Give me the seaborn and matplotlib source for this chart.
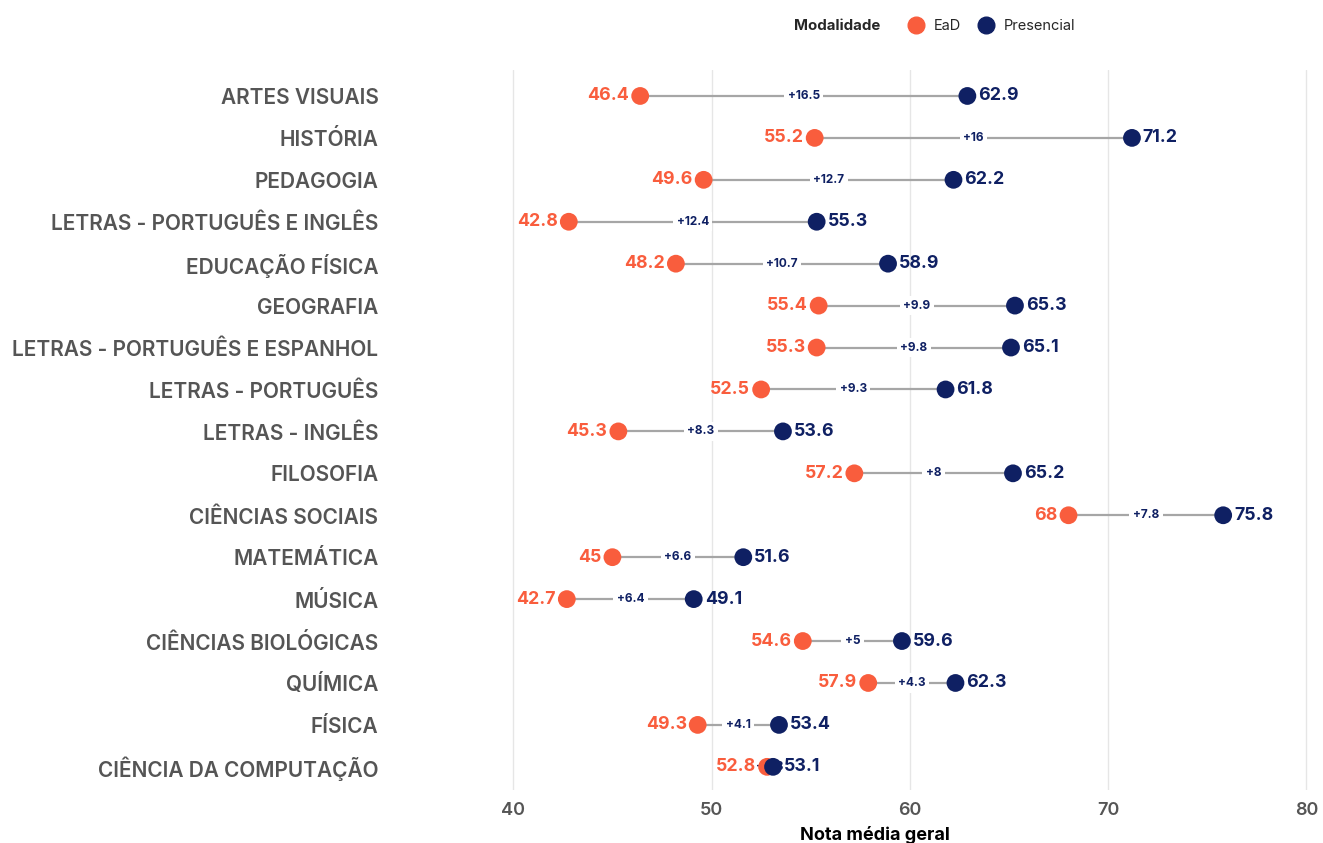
import pandas as pd
import matplotlib.pyplot as plt
import seaborn as sns
from matplotlib.lines import Line2D

# Data (top to bottom)
cursos = ["ARTES VISUAIS", "HISTÓRIA", "PEDAGOGIA", "LETRAS - PORTUGUÊS E INGLÊS",
          "EDUCAÇÃO FÍSICA", "GEOGRAFIA", "LETRAS - PORTUGUÊS E ESPANHOL",
          "LETRAS - PORTUGUÊS", "LETRAS - INGLÊS", "FILOSOFIA", "CIÊNCIAS SOCIAIS",
          "MATEMÁTICA", "MÚSICA", "CIÊNCIAS BIOLÓGICAS", "QUÍMICA", "FÍSICA",
          "CIÊNCIA DA COMPUTAÇÃO"]
nota_ead = [46.4, 55.2, 49.6, 42.8, 48.2, 55.4, 55.3, 52.5, 45.3, 57.2, 68,
            45, 42.7, 54.6, 57.9, 49.3, 52.8]
nota_presencial = [62.9, 71.2, 62.2, 55.3, 58.9, 65.3, 65.1, 61.8, 53.6, 65.2, 75.8,
                   51.6, 49.1, 59.6, 62.3, 53.4, 53.1]
diferenca = ["+16.5", "+16", "+12.7", "+12.4", "+10.7", "+9.9", "+9.8", "+9.3", "+8.3",
             "+8", "+7.8", "+6.6", "+6.4", "+5", "+4.3", "+4.1", "+0.3"]
ead_labels = ["46.4", "55.2", "49.6", "42.8", "48.2", "55.4", "55.3", "52.5", "45.3",
              "57.2", "68", "45", "42.7", "54.6", "57.9", "49.3", "52.8"]
pres_labels = ["62.9", "71.2", "62.2", "55.3", "58.9", "65.3", "65.1", "61.8", "53.6",
               "65.2", "75.8", "51.6", "49.1", "59.6", "62.3", "53.4", "53.1"]

COR_EAD = "#F95D3D"
COR_PRES = "#0F2063"

df = pd.DataFrame({
    "curso": cursos * 2,
    "nota": nota_ead + nota_presencial,
    "Modalidade": ["EaD"] * len(cursos) + ["Presencial"] * len(cursos),
})

sns.set_style("white")
plt.rcParams["font.family"] = ["Inter", "DejaVu Sans"]

fig = plt.figure(figsize=(13.23, 8.43), dpi=100)
ax = fig.add_axes([0.328, 0.063, 0.667, 0.854])

# connecting segments
ax.hlines(range(len(cursos)), nota_ead, nota_presencial, color="#a6a6a6", lw=1.6, zorder=1)

sns.stripplot(data=df, x="nota", y="curso", hue="Modalidade", order=cursos,
              palette={"EaD": COR_EAD, "Presencial": COR_PRES}, jitter=False,
              size=12.8, linewidth=0, ax=ax, zorder=3, legend=False)

for i in range(len(cursos)):
    ax.text(nota_ead[i] - 0.55, i, ead_labels[i], color=COR_EAD, fontsize=12.8,
            fontweight="bold", ha="right", va="center", zorder=4)
    ax.text(nota_presencial[i] + 0.55, i, pres_labels[i], color=COR_PRES, fontsize=12.8,
            fontweight="bold", ha="left", va="center", zorder=4)
    mid = (nota_ead[i] + nota_presencial[i]) / 2
    ax.text(mid, i, diferenca[i], color=COR_PRES, fontsize=8.5, fontweight="bold",
            ha="center", va="center", zorder=2,
            bbox=dict(boxstyle="square,pad=0.3", fc="white", ec="none"))

ax.set_xlim(36, 80.5)
ax.set_ylim(16.55, -0.62)
ax.set_xticks([40, 50, 60, 70, 80])
ax.xaxis.grid(True, color="#e6e6e6", lw=1)
ax.yaxis.grid(False)
ax.set_axisbelow(True)
for s in ax.spines.values():
    s.set_visible(False)
ax.tick_params(axis="x", length=0, pad=9, labelsize=13, labelcolor="#555555")
ax.tick_params(axis="y", length=0, pad=40, labelsize=15, labelcolor="#555555")
for t in ax.get_yticklabels():
    t.set_fontweight("semibold")
for t in ax.get_xticklabels():
    t.set_fontweight("semibold")
ax.set_ylabel("")
ax.set_xlabel("Nota média geral", fontsize=13, fontweight="bold", color="black", labelpad=5)

# legend on top
fig.text(0.600, 0.969, "Modalidade", fontsize=10.8, fontweight="bold", ha="left", va="center")
handles = [Line2D([], [], marker="o", ls="", color=COR_EAD, markersize=12),
           Line2D([], [], marker="o", ls="", color=COR_PRES, markersize=12)]
fig.legend(handles, ["EaD", "Presencial"], loc="center left", bbox_to_anchor=(0.676, 0.969),
           ncol=2, frameon=False, fontsize=10.5, handletextpad=0.6, columnspacing=1.1,
           handlelength=1.2)

fig.savefig("out.png", dpi=100)
